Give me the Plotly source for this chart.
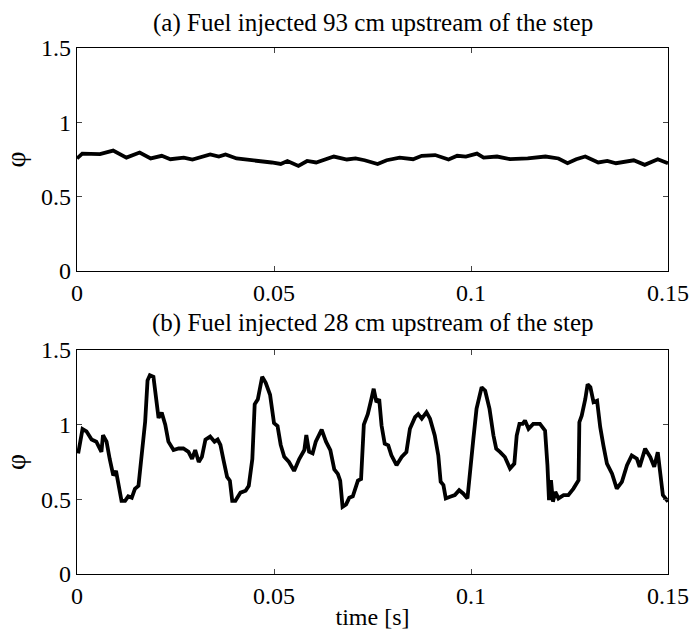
import plotly.graph_objects as go

# (a) fuel injected 93 cm upstream
t_a = [0, 0.00134, 0.00582, 0.00918, 0.01254, 0.0159, 0.0187, 0.0215, 0.0237, 0.0271,
       0.0293, 0.0338, 0.0360, 0.0377, 0.0405, 0.0450, 0.0472, 0.0494, 0.0517, 0.0534,
       0.0562, 0.0584, 0.0607, 0.0652, 0.0685, 0.0707, 0.0730, 0.0763, 0.0786, 0.0819,
       0.0853, 0.0875, 0.0909, 0.0943, 0.0965, 0.0987, 0.1015, 0.1032, 0.1066, 0.1099,
       0.1144, 0.1189, 0.1222, 0.1245, 0.1267, 0.1290, 0.1323, 0.1346, 0.1368, 0.1413,
       0.1441, 0.1474, 0.15]
phi_a = [0.757, 0.79, 0.786, 0.81, 0.763, 0.797, 0.757, 0.775, 0.752, 0.763,
         0.75, 0.784, 0.77, 0.784, 0.757, 0.745, 0.734, 0.73, 0.72, 0.74,
         0.707, 0.74, 0.73, 0.77, 0.75, 0.757, 0.745, 0.72, 0.745, 0.763,
         0.752, 0.775, 0.78, 0.75, 0.775, 0.77, 0.79, 0.763, 0.77, 0.752,
         0.757, 0.77, 0.757, 0.725, 0.752, 0.77, 0.73, 0.74, 0.725, 0.745,
         0.714, 0.752, 0.725]

# (b) fuel injected 28 cm upstream
t_b = [0.0003, 0.0014, 0.0024, 0.0037, 0.0049, 0.0062, 0.0066, 0.0075, 0.0083, 0.0092,
       0.0099, 0.0105, 0.0113, 0.0122, 0.013, 0.0139, 0.0147, 0.0156, 0.0164, 0.0173,
       0.0179, 0.0185, 0.0194, 0.0201, 0.0207, 0.0215, 0.0224, 0.0232, 0.0245, 0.0258,
       0.027, 0.0283, 0.0292, 0.03, 0.0309, 0.0317, 0.0326, 0.0338, 0.0349, 0.0357,
       0.0364, 0.0372, 0.0381, 0.0388, 0.0394, 0.0402, 0.0415, 0.0428, 0.0436, 0.0445,
       0.0451, 0.0459, 0.047, 0.0479, 0.049, 0.05, 0.0509, 0.0517, 0.0526, 0.0538,
       0.0551, 0.0564, 0.0577, 0.0582, 0.0589, 0.0598, 0.0606, 0.0621, 0.0632, 0.0643,
       0.0653, 0.0662, 0.0668, 0.0674, 0.0683, 0.0691, 0.07, 0.0713, 0.0721, 0.0728,
       0.0738, 0.0747, 0.0753, 0.076, 0.0767, 0.0773, 0.0781, 0.079, 0.0798, 0.0811,
       0.0824, 0.0836, 0.0845, 0.0858, 0.0866, 0.0875, 0.0887, 0.0896, 0.0908, 0.0917,
       0.0923, 0.093, 0.0936, 0.0947, 0.0959, 0.097, 0.098, 0.0991, 0.0997, 0.1006,
       0.1014, 0.1027, 0.1036, 0.1047, 0.1057, 0.1064, 0.1074, 0.1086, 0.1099, 0.111,
       0.1116, 0.1123, 0.1131, 0.1137, 0.1146, 0.1158, 0.1175, 0.1188, 0.1194, 0.1198,
       0.1203, 0.1208, 0.1214, 0.1222, 0.1235, 0.1247, 0.126, 0.1273, 0.1275, 0.1281,
       0.129, 0.1296, 0.1303, 0.1311, 0.132, 0.1328, 0.1336, 0.1345, 0.1358, 0.137,
       0.1383, 0.1396, 0.1408, 0.1421, 0.1428, 0.1442, 0.1455, 0.1465, 0.1474, 0.148,
       0.1487, 0.15]
phi_b = [0.807, 0.97, 0.955, 0.90, 0.886, 0.818, 0.93, 0.886, 0.77, 0.66,
         0.69, 0.59, 0.49, 0.49, 0.52, 0.51, 0.57, 0.59, 0.82, 1.02,
         1.295, 1.33, 1.32, 1.18, 1.045, 1.08, 1.0, 0.886, 0.83, 0.84,
         0.84, 0.818, 0.77, 0.83, 0.75, 0.784, 0.90, 0.92, 0.886, 0.90,
         0.864, 0.76, 0.65, 0.625, 0.49, 0.49, 0.545, 0.557, 0.59, 0.77,
         1.136, 1.17, 1.32, 1.28, 1.20, 1.01, 0.99, 0.864, 0.784, 0.75,
         0.69, 0.77, 0.83, 0.93, 0.818, 0.807, 0.886, 0.966, 0.886, 0.83,
         0.70, 0.67, 0.625, 0.45, 0.466, 0.51, 0.52, 0.625, 0.636, 1.0,
         1.07, 1.17, 1.24, 1.15, 1.17, 0.994, 0.872, 0.861, 0.794, 0.728,
         0.783, 0.816, 0.972, 1.05, 1.07, 1.04, 1.083, 1.04, 0.927, 0.794,
         0.617, 0.595, 0.506, 0.517, 0.528, 0.561, 0.539, 0.506, 0.683, 0.905,
         1.105, 1.25, 1.227, 1.105, 0.927, 0.839, 0.816, 0.783, 0.706, 0.739,
         0.927, 1.005, 1.005, 1.027, 0.972, 1.005, 1.005, 0.96, 0.728, 0.495,
         0.628, 0.484, 0.55, 0.506, 0.528, 0.528, 0.572, 0.628, 1.016, 1.06,
         1.17, 1.27, 1.25, 1.15, 1.16, 0.983, 0.861, 0.739, 0.672, 0.572,
         0.617, 0.728, 0.794, 0.772, 0.717, 0.839, 0.783, 0.717, 0.816, 0.661,
         0.528, 0.484]

x_ticks = [0, 0.05, 0.1, 0.15]
x_ticktext = ["0", "0.05", "0.1", "0.15"]
y_ticks = [0, 0.5, 1, 1.5]
y_ticktext = ["0", "0.5", "1", "1.5"]

FONT = "Liberation Serif, Times New Roman, serif"

fig = go.Figure()
fig.add_trace(go.Scatter(x=t_a, y=phi_a, mode="lines", line=dict(color="black", width=3.8),
                         xaxis="x", yaxis="y", showlegend=False))
fig.add_trace(go.Scatter(x=t_b, y=phi_b, mode="lines", line=dict(color="black", width=3.8),
                         xaxis="x2", yaxis="y2", showlegend=False))

xcommon = dict(range=[0, 0.15], tickvals=x_ticks, ticktext=x_ticktext, ticks="inside", ticklen=5,
               showline=True, linecolor="black", linewidth=1.2, mirror="ticks", showgrid=False,
               zeroline=False, automargin=False, ticklabeloverflow="allow",
               tickfont=dict(size=24, color="black"))
ycommon = dict(range=[0, 1.5], tickvals=y_ticks, ticktext=y_ticktext, ticks="inside", ticklen=5,
               showline=True, linecolor="black", linewidth=1.2, mirror="ticks", showgrid=False,
               zeroline=False, automargin=False, tickfont=dict(size=24, color="black"),
               title=dict(text="φ", font=dict(size=28, color="black"), standoff=14))

fig.update_layout(
    width=691, height=632,
    paper_bgcolor="white", plot_bgcolor="white",
    font=dict(family=FONT, color="black"),
    margin=dict(l=77, r=23, t=48, b=58),
    xaxis=dict(domain=[0, 1], anchor="y", **xcommon),
    yaxis=dict(domain=[0.576, 1], anchor="x", **ycommon),
    xaxis2=dict(domain=[0, 1], anchor="y2",
                title=dict(text="time [s]", font=dict(size=24, color="black"), standoff=0), **xcommon),
    yaxis2=dict(domain=[0, 0.426], anchor="x2", **ycommon),
    annotations=[
        dict(text="(a) Fuel injected 93 cm upstream of the step", x=0.5, y=1, xref="paper", yref="paper",
             yanchor="bottom", yshift=9, showarrow=False, font=dict(size=25, color="black")),
        dict(text="(b) Fuel injected 28 cm upstream of the step", x=0.5, y=0.426, xref="paper", yref="paper",
             yanchor="bottom", yshift=11, showarrow=False, font=dict(size=25, color="black")),
    ],
)

# drop the default 8px body margin so the 691x632 figure fills the window exactly
fig.write_html("out.html", config={"displayModeBar": False},
               post_script="document.body.style.margin='0';")
